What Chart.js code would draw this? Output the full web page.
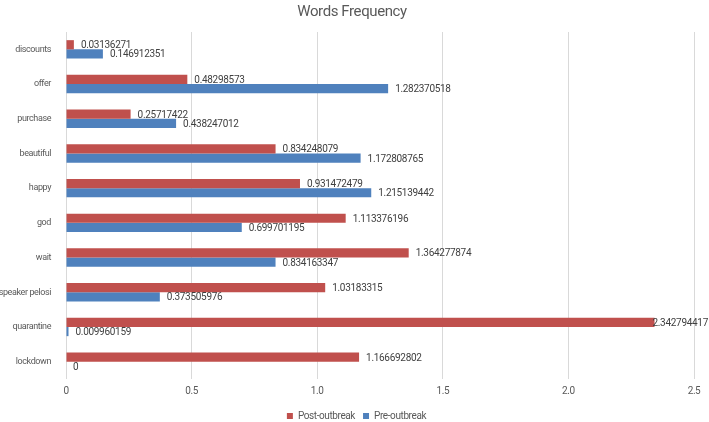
<!DOCTYPE html>
<html><head><meta charset="utf-8">
<script src="https://cdn.jsdelivr.net/npm/chart.js@4"></script>
<style>html,body{margin:0;padding:0;background:#fff;}</style>
</head><body>
<canvas id="c" width="709" height="422"></canvas>
<script>
const categories = ["discounts","offer","purchase","beautiful","happy","god","wait","speaker pelosi","quarantine","lockdown"];
const postOutbreak = [0.03136271,0.48298573,0.25717422,0.834248079,0.931472479,1.113376196,1.364277874,1.03183315,2.342794417,1.166692802];
const preOutbreak = [0.146912351,1.282370518,0.438247012,1.172808765,1.215139442,0.699701195,0.834163347,0.373505976,0.009960159,0];
const xTicks = [0,0.5,1,1.5,2,2.5];

const FONT = "Roboto, 'Open Sans', sans-serif";
const spacingPlugin = {
  id:'spacing',
  beforeDraw(chart){
    chart.ctx.letterSpacing = '-0.4px';
    if (chart.titleBlock) { chart.titleBlock.left = 0; chart.titleBlock.right = 704; }
    if (chart.legend) { chart.legend.left = 0; chart.legend.right = 723; }
  }
};
const labelPlugin = {
  id:'labels',
  afterDatasetsDraw(chart){
    const ctx = chart.ctx;
    ctx.save();
    ctx.letterSpacing = '-0.3px';
    ctx.font = "10px " + FONT;
    ctx.fillStyle = "#404040";
    ctx.textBaseline = "middle";
    ctx.textAlign = "left";
    chart.data.datasets.forEach((ds,di)=>{
      const meta = chart.getDatasetMeta(di);
      meta.data.forEach((bar,i)=>{
        const txt = String(ds.data[i]);
        const w = ctx.measureText(txt).width;
        const x = Math.min(bar.x + 7, chart.width - w - 1);
        ctx.fillText(txt, x, bar.y + 1);
      });
    });
    ctx.restore();
  }
};

new Chart(document.getElementById('c'), {
  type:'bar',
  data:{
    labels:categories,
    datasets:[
      {label:'Post-outbreak', data:postOutbreak, backgroundColor:'#C0504D', categoryPercentage:0.53, barPercentage:1.0},
      {label:'Pre-outbreak', data:preOutbreak, backgroundColor:'#4F81BD', categoryPercentage:0.53, barPercentage:1.0}
    ]
  },
  options:{
    indexAxis:'y',
    responsive:false,
    animation:false,
    layout:{padding:{left:0,right:15,top:0,bottom:-9}},
    plugins:{
      title:{display:true,text:'Words Frequency',color:'#595959',font:{family:FONT,size:15,weight:'normal'},padding:{top:3,bottom:11}},
      legend:{position:'bottom',labels:{boxWidth:6,boxHeight:6,color:'#595959',font:{family:FONT,size:10},padding:8}},
      tooltip:{enabled:false}
    },
    scales:{
      x:{min:0,max:2.5,
        afterBuildTicks(axis){axis.ticks = xTicks.map(v=>({value:v}));},
        ticks:{color:'#595959',font:{family:FONT,size:10},padding:6},
        grid:{color:'#d9d9d9',drawTicks:false},
        border:{display:false}},
      y:{ticks:{color:'#595959',font:{family:FONT,size:9},padding:7},
        afterFit(axis){axis.width = 66;},
        grid:{display:false},
        border:{display:false}}
    }
  },
  plugins:[spacingPlugin, labelPlugin]
});
</script>
</body></html>
